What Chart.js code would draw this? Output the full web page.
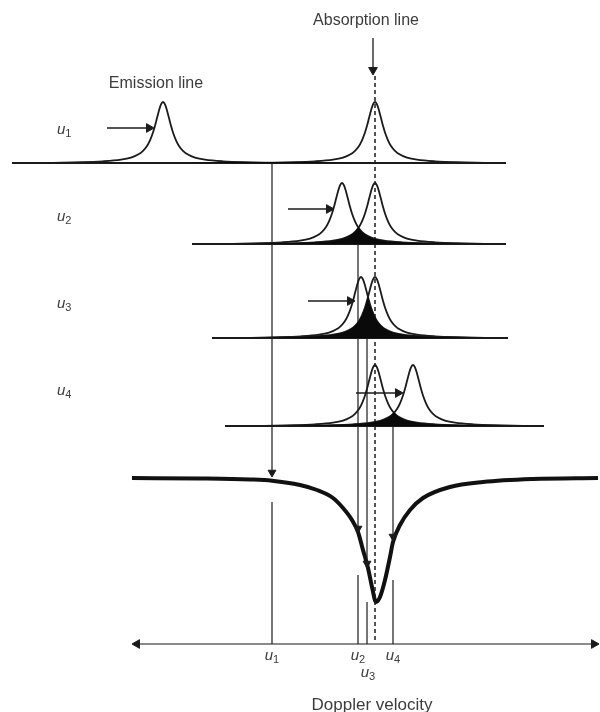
<!DOCTYPE html>
<html>
<head>
<meta charset="utf-8">
<script src="https://cdn.jsdelivr.net/npm/chart.js@4.4.1/dist/chart.umd.min.js"></script>
<style>
  html, body { margin: 0; padding: 0; background: #fff; }
  #wrap { width: 600px; height: 712px; }
</style>
</head>
<body>
<div id="wrap"><canvas id="chart" width="600" height="712"></canvas></div>
<script>
const PROFILE_DX = [-120,-90,-60,-42,-32,-25,-20,-16,-13,-10,-8,-6,-4,-2,0,2,4,6,8,10,13,16,20,25,32,42,60,90,120];
const PROFILE_H  = [0,0.7,1.7,3.3,5.4,8.4,12.2,17.1,22.7,30.5,37.2,44.9,52.6,58.7,61,58.7,52.6,44.9,37.2,30.5,22.7,17.1,12.2,8.4,5.4,3.3,1.7,0.7,0];

const ROWS = ["1", "2", "3", "4"];
const ROW_BASE = [163, 244, 338, 426];
const ROW_START = [12, 192, 212, 225];
const ROW_END = [506, 506, 508, 544];
const EMISSION_X = [163, 342, 361, 413];
const ABSORPTION_X = 375;

// black overlap of the two lines in each row
const OVERLAP_X = [269, 358.5, 368, 394];
const OVERLAP_DX = [-120,-83,-53,-35,-25,-17,-11,-7,-4,-2,0,2,4,7,11,17,25,35,53,83,120];
const OVERLAP_H = [
  [0,0,0.4,0.9,1,1,1,1,1,1,1,1,1,1,1,1,1,0.9,0.4,0,0],
  [0,0.6,1.2,2.2,3.3,5.0,7.1,9.4,11.7,13.8,16.4,13.8,11.7,9.4,7.1,5.0,3.3,2.2,1.2,0.6,0],
  [0,0.7,1.6,3.3,5.4,9.0,14.4,20.6,27.6,33.7,40.9,33.7,27.6,20.6,14.4,9.0,5.4,3.3,1.6,0.7,0],
  [0,0.6,1.2,2.0,3.0,4.4,6.1,7.9,9.7,11.3,13.2,11.3,9.7,7.9,6.1,4.4,3.0,2.0,1.2,0.6,0],
];

// resulting absorption profile (bold curve)
const SUM_X = [132,200,250,272,300,317,333,343,352,358,363,368,372,376,380,385,390,393,400,410,423,450,483,533,598];
const SUM_Y = [478,478.5,479.5,480.7,485,490,498,508,520,532,550,568,587,602,597,580,557,542,525,510,498,487,482,479,478];

// Doppler velocities u1..u4 and where their markers meet the bold curve
const U_X = [272, 358, 367, 393];
const U_HIT = [477, 533, 568, 541];
const U_LOW = [502, 575, 602, 580];
const AXIS_Y = 644;
const AXIS_FROM = 132;
const AXIS_TO = 599;

// horizontal arrows in each row
const ARROW_Y = [128, 209, 301, 393];
const ARROW_FROM = [107, 288, 308, 356];
const ARROW_TO = [154, 334, 355, 403];

const INK = "#1b1b1b";
const TEXT = "#3c3c3c";

function line(points, extra) {
  return Object.assign({
    data: points,
    borderColor: INK,
    borderWidth: 1.8,
    pointRadius: 0,
    fill: false,
    cubicInterpolationMode: "monotone",
  }, extra || {});
}

function arrow(x1, y1, x2, y2, rot, r, extra) {
  // the triangle's tip sits r beyond its centre
  const dx = rot === 90 ? -r : rot === 270 ? r : 0;
  const dy = rot === 180 ? -r : rot === 0 ? r : 0;
  return line([{ x: x1, y: y1 }, { x: x2 + dx, y: y2 + dy }], Object.assign({
    borderWidth: 1.3,
    pointRadius: [0, r],
    pointStyle: "triangle",
    pointRotation: rot,
    pointBackgroundColor: INK,
    pointBorderColor: INK,
    pointBorderWidth: 1,
    cubicInterpolationMode: "default",
    tension: 0,
  }, extra || {}));
}

const datasets = [];

ROWS.forEach((r, i) => {
  datasets.push(line(
    OVERLAP_DX.map((d, k) => ({ x: OVERLAP_X[i] + d, y: ROW_BASE[i] - OVERLAP_H[i][k] })),
    { fill: { value: ROW_BASE[i] }, backgroundColor: "#0a0a0a", borderColor: "rgba(0,0,0,0)", borderWidth: 0 }
  ));
});

ROWS.forEach((r, i) => {
  datasets.push(line([{ x: ROW_START[i], y: ROW_BASE[i] }, { x: ROW_END[i], y: ROW_BASE[i] }]));
  [EMISSION_X[i], ABSORPTION_X].forEach(c => {
    datasets.push(line(PROFILE_DX.map((d, k) => ({ x: c + d, y: ROW_BASE[i] - PROFILE_H[k] }))));
  });
  datasets.push(arrow(ARROW_FROM[i], ARROW_Y[i], ARROW_TO[i], ARROW_Y[i], 90, 5));
});

// velocity markers: from each row down onto the bold curve, then up from the axis
U_X.forEach((ux, i) => {
  datasets.push(arrow(ux, ROW_BASE[i], ux, U_HIT[i], 180, 4.5, { borderWidth: 1.2 }));
  datasets.push(line([{ x: ux, y: U_LOW[i] }, { x: ux, y: AXIS_Y }], { borderWidth: 1.2, cubicInterpolationMode: "default" }));
});

// rest position of the absorption line
datasets.push(arrow(ABSORPTION_X - 2, 38, ABSORPTION_X - 2, 75, 180, 5, { borderWidth: 1.3 }));
datasets.push(line([{ x: ABSORPTION_X, y: 76 }, { x: ABSORPTION_X, y: 641 }], { borderWidth: 1.5, borderDash: [4, 3], cubicInterpolationMode: "default" }));

datasets.push(line(SUM_X.map((x, k) => ({ x, y: SUM_Y[k] })), { borderWidth: 4, borderColor: "#111" }));

// velocity axis, arrow at both ends
datasets.push(line(
  [{ x: AXIS_FROM + 5, y: AXIS_Y }, { x: AXIS_TO - 5, y: AXIS_Y }],
  {
    borderColor: "#8a8a8a", borderWidth: 2, cubicInterpolationMode: "default",
    pointRadius: 5, pointStyle: "triangle", pointRotation: [270, 90],
    pointBackgroundColor: INK, pointBorderColor: INK, pointBorderWidth: 1,
  }
));

const TEXTS = [
  { text: "Absorption line", x: 366, y: 25 },
  { text: "Emission line", x: 156, y: 88 },
  { text: "Doppler velocity", x: 372, y: 710, size: 17 },
];
const U_LABELS = [
  { sub: "1", x: 57, y: 134, align: "left" },
  { sub: "2", x: 57, y: 221, align: "left" },
  { sub: "3", x: 57, y: 308, align: "left" },
  { sub: "4", x: 57, y: 395, align: "left" },
  { sub: "1", x: U_X[0], y: 660, align: "center" },
  { sub: "2", x: U_X[1], y: 660, align: "center" },
  { sub: "3", x: U_X[2] + 1, y: 677, align: "center" },
  { sub: "4", x: U_X[3], y: 660, align: "center" },
];

const annotate = {
  id: "annotate",
  afterDatasetsDraw(chart) {
    const { ctx, scales: { x, y } } = chart;
    ctx.save();
    ctx.fillStyle = TEXT;
    ctx.textBaseline = "alphabetic";
    ctx.textAlign = "center";
    TEXTS.forEach(t => {
      ctx.font = (t.size || 16) + "px 'Liberation Sans', Arial, sans-serif";
      ctx.fillText(t.text, x.getPixelForValue(t.x), y.getPixelForValue(t.y));
    });
    ctx.textAlign = "left";
    U_LABELS.forEach(l => {
      ctx.font = "italic 15px 'Liberation Sans', Arial, sans-serif";
      const w1 = ctx.measureText("u").width;
      ctx.font = "11px 'Liberation Sans', Arial, sans-serif";
      const w2 = ctx.measureText(l.sub).width;
      let px = x.getPixelForValue(l.x);
      const py = y.getPixelForValue(l.y);
      if (l.align === "center") px -= (w1 + w2) / 2;
      ctx.font = "italic 15px 'Liberation Sans', Arial, sans-serif";
      ctx.fillText("u", px, py);
      ctx.font = "11px 'Liberation Sans', Arial, sans-serif";
      ctx.fillText(l.sub, px + w1, py + 3);
    });
    ctx.restore();
  },
};

new Chart(document.getElementById("chart"), {
  type: "line",
  data: { datasets },
  plugins: [annotate],
  options: {
    responsive: false,
    animation: false,
    events: [],
    layout: { padding: 0, autoPadding: false },
    plugins: { legend: { display: false }, tooltip: { enabled: false } },
    scales: {
      x: { type: "linear", min: 0, max: 600, display: false },
      y: { type: "linear", min: 0, max: 712, reverse: true, display: false },
    },
  },
});
</script>
</body>
</html>
